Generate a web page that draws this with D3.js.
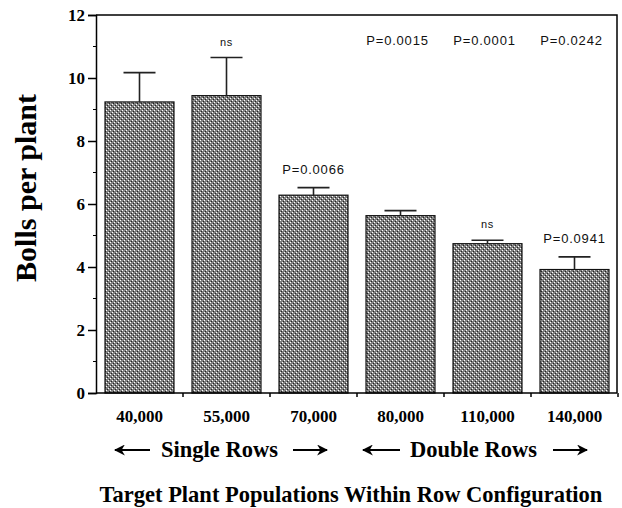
<!DOCTYPE html>
<html>
<head>
<meta charset="utf-8">
<script src="https://cdn.jsdelivr.net/npm/d3@7"></script>
<style>
  body { margin: 0; background: #fff; }
  svg { display: block; }
</style>
</head>
<body>
<div id="chart"></div>
<script>
// data
const populations = ["40,000", "55,000", "70,000", "80,000", "110,000", "140,000"];
const bollsMean = [9.24, 9.44, 6.28, 5.63, 4.74, 3.92];
const bollsUpper = [10.17, 10.65, 6.52, 5.79, 4.85, 4.32];
const barNotes = ["", "ns", "P=0.0066", "", "ns", "P=0.0941"];
const topNotes = ["P=0.0015", "P=0.0001", "P=0.0242"];
const yTicks = [0, 2, 4, 6, 8, 10, 12];
const yMinor = [1, 3, 5, 7, 9, 11];

const width = 622, height = 508;
const plotL = 96, plotR = 617, plotT = 15, plotB = 393;

const svg = d3.select("#chart").append("svg")
  .attr("width", width)
  .attr("height", height);

// hatched grey fill like the old bitmap pattern
const defs = svg.append("defs");
const pat = defs.append("pattern")
  .attr("id", "dots")
  .attr("patternUnits", "userSpaceOnUse")
  .attr("width", 4).attr("height", 4);
pat.append("rect").attr("width", 4).attr("height", 4).attr("fill", "#808080");
[[0, 0], [2, 2]].forEach(p => pat.append("rect").attr("x", p[0]).attr("y", p[1]).attr("width", 1).attr("height", 1).attr("fill", "#fff"));
[[1, 3], [3, 1]].forEach(p => pat.append("rect").attr("x", p[0]).attr("y", p[1]).attr("width", 1).attr("height", 1).attr("fill", "#222"));

defs.append("marker")
  .attr("id", "head")
  .attr("viewBox", "0 0 10 10")
  .attr("refX", 9).attr("refY", 5)
  .attr("markerWidth", 11).attr("markerHeight", 11)
  .attr("markerUnits", "userSpaceOnUse")
  .attr("orient", "auto")
  .append("path")
  .attr("d", "M0,0L10,5L0,10L3,5Z")
  .attr("fill", "#000");

const x = d3.scaleBand()
  .domain(populations)
  .range([plotL, plotR + 1])
  .paddingInner(0.207)
  .paddingOuter(0.1035);

const y = d3.scaleLinear()
  .domain([0, 12])
  .range([plotB, plotT]);

// frame top and right
svg.append("path")
  .attr("d", `M${plotL},${plotT}H${plotR}V${plotB}`)
  .attr("fill", "none")
  .attr("stroke", "#000")
  .attr("stroke-width", 1.5);

// bars
svg.selectAll("rect.bar")
  .data(populations)
  .join("rect")
  .attr("class", "bar")
  .attr("x", d => x(d))
  .attr("width", x.bandwidth())
  .attr("y", (d, i) => y(bollsMean[i]))
  .attr("height", (d, i) => y(0) - y(bollsMean[i]))
  .attr("fill", "url(#dots)")
  .attr("stroke", "#111")
  .attr("stroke-width", 1.2);

// error bars (upper only)
const err = svg.selectAll("g.err")
  .data(populations)
  .join("g")
  .attr("class", "err")
  .attr("stroke", "#222")
  .attr("stroke-width", 1.6);
err.append("line")
  .attr("x1", d => x(d) + x.bandwidth() / 2)
  .attr("x2", d => x(d) + x.bandwidth() / 2)
  .attr("y1", (d, i) => y(bollsMean[i]))
  .attr("y2", (d, i) => y(bollsUpper[i]));
err.append("line")
  .attr("x1", d => x(d) + x.bandwidth() / 2 - 16)
  .attr("x2", d => x(d) + x.bandwidth() / 2 + 16)
  .attr("y1", (d, i) => y(bollsUpper[i]))
  .attr("y2", (d, i) => y(bollsUpper[i]));

// y axis
const serif = "Liberation Serif, Times New Roman, serif";
const yAxis = svg.append("g")
  .attr("transform", `translate(${plotL},0)`)
  .call(d3.axisLeft(y).tickValues(yTicks).tickSize(8).tickPadding(3));
yAxis.select(".domain").attr("stroke-width", 1.5);
yAxis.selectAll(".tick line").attr("stroke-width", 1.5);
yAxis.selectAll(".tick text")
  .attr("font-family", serif)
  .attr("font-weight", "bold")
  .attr("font-size", 17)
  .attr("fill", "#000");
svg.append("g")
  .selectAll("line")
  .data(yMinor)
  .join("line")
  .attr("x1", plotL - 3).attr("x2", plotL)
  .attr("y1", d => y(d)).attr("y2", d => y(d))
  .attr("stroke", "#000");

// x axis
const xAxis = svg.append("g")
  .attr("transform", `translate(0,${plotB})`)
  .call(d3.axisBottom(x).tickSize(0).tickPadding(17));
xAxis.select(".domain").attr("d", `M${plotL},0H${plotR}`).attr("stroke-width", 1.5);
xAxis.selectAll(".tick text")
  .attr("font-family", serif)
  .attr("font-weight", "bold")
  .attr("font-size", 17)
  .attr("fill", "#000");
svg.append("g")
  .selectAll("line")
  .data(d3.range(1, populations.length + 1))
  .join("line")
  .attr("x1", i => plotL + i * x.step()).attr("x2", i => plotL + i * x.step())
  .attr("y1", plotB).attr("y2", plotB + 4)
  .attr("stroke", "#000")
  .attr("stroke-width", 1.5);

// annotations above bars
const small = "Liberation Sans, Arial, sans-serif";
svg.selectAll("text.note")
  .data(populations)
  .join("text")
  .attr("class", "note")
  .attr("x", d => x(d) + x.bandwidth() / 2)
  .attr("y", (d, i) => y(bollsUpper[i]) - (barNotes[i] === "ns" ? 12 : 14))
  .attr("text-anchor", "middle")
  .attr("font-family", small)
  .attr("font-size", (d, i) => barNotes[i] === "ns" ? 11 : 13)
  .attr("letter-spacing", 0.8)
  .attr("fill", "#111")
  .text((d, i) => barNotes[i]);

svg.selectAll("text.topnote")
  .data(topNotes)
  .join("text")
  .attr("class", "topnote")
  .attr("x", (d, i) => x(populations[i + 3]) + x.bandwidth() / 2 - 3)
  .attr("y", 45)
  .attr("text-anchor", "middle")
  .attr("font-family", small)
  .attr("font-size", 13)
  .attr("letter-spacing", 0.8)
  .attr("fill", "#111")
  .text(d => d);

// y label
svg.append("text")
  .attr("transform", "translate(36,188) rotate(-90)")
  .attr("text-anchor", "middle")
  .attr("font-family", serif)
  .attr("font-weight", "bold")
  .attr("font-size", 30)
  .text("Bolls per plant");

// row configuration labels with arrows
const groups = [
  { label: "Single Rows", cx: 219.5, a1: [150, 115], a2: [293, 327] },
  { label: "Double Rows", cx: 473.5, a1: [400, 363], a2: [553, 587] }
];
groups.forEach(g => {
  svg.append("text")
    .attr("x", g.cx).attr("y", 457)
    .attr("text-anchor", "middle")
    .attr("font-family", serif)
    .attr("font-weight", "bold")
    .attr("font-size", 22.5)
    .text(g.label);
  [g.a1, g.a2].forEach(a => {
    svg.append("line")
      .attr("x1", a[0]).attr("x2", a[1])
      .attr("y1", 450).attr("y2", 450)
      .attr("stroke", "#000")
      .attr("stroke-width", 1.8)
      .attr("marker-end", "url(#head)");
  });
});

// x title
svg.append("text")
  .attr("x", 351).attr("y", 502)
  .attr("text-anchor", "middle")
  .attr("font-family", serif)
  .attr("font-weight", "bold")
  .attr("font-size", 22.5)
  .text("Target Plant Populations Within Row Configuration");
</script>
</body>
</html>
